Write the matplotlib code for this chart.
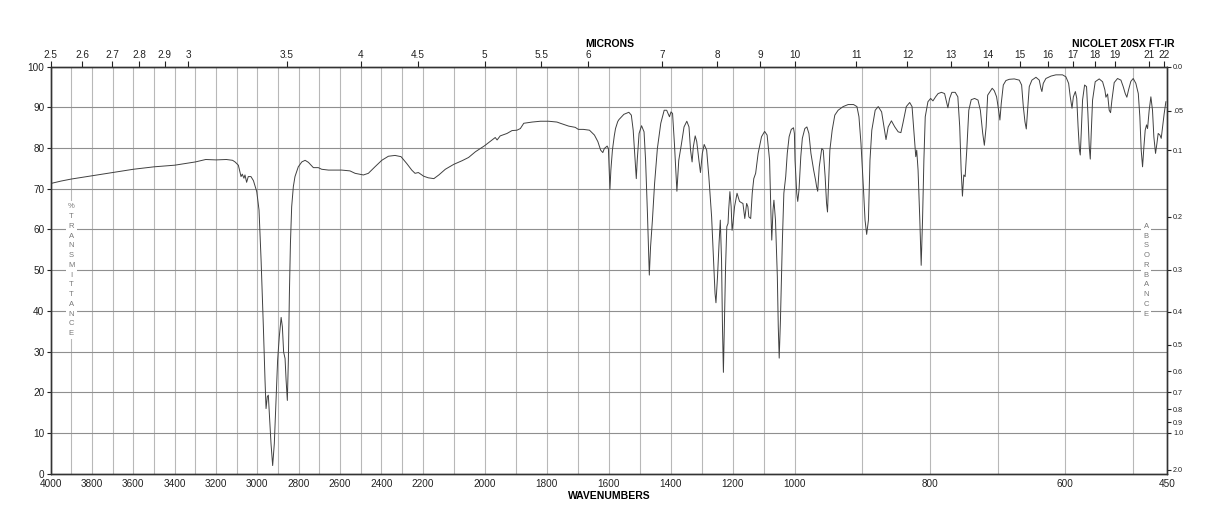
import numpy as np
import matplotlib.pyplot as plt

plt.rcParams['font.family'] = ['Liberation Sans', 'DejaVu Sans']

# spectrum (cm-1, %T)
wavenumber = [
    4000, 3950, 3900, 3850, 3800, 3750, 3700, 3650, 3600, 3550, 3500, 3450,
    3400, 3350, 3300, 3250, 3200, 3150, 3120, 3108, 3092, 3079, 3073, 3065,
    3060, 3052, 3044, 3031, 3019, 3003, 2992, 2982, 2971, 2963, 2958, 2952,
    2947, 2942, 2934, 2926, 2918, 2910, 2902, 2894, 2885, 2879, 2873, 2866,
    2861, 2855, 2850, 2845, 2840, 2834, 2826, 2818, 2802, 2785, 2769, 2753,
    2729, 2705, 2689, 2656, 2592, 2552, 2527, 2487, 2463, 2431, 2398, 2366,
    2334, 2305, 2277, 2253, 2237, 2221, 2197, 2182, 2164, 2148, 2127, 2100,
    2073, 2052, 2030, 2000, 1976, 1966, 1960, 1950, 1928, 1912, 1896, 1885,
    1874, 1847, 1820, 1794, 1767, 1756, 1729, 1708, 1698, 1682, 1662, 1646,
    1635, 1626, 1619, 1614, 1605, 1601, 1598, 1596, 1593, 1588, 1582, 1578,
    1571, 1567, 1551, 1535, 1527, 1521, 1515, 1511, 1508, 1502, 1494, 1486,
    1481, 1475, 1469, 1465, 1459, 1452, 1443, 1432, 1421, 1413, 1404, 1399,
    1394, 1388, 1380, 1374, 1366, 1357, 1348, 1341, 1336, 1331, 1327, 1321,
    1316, 1309, 1304, 1298, 1292, 1284, 1277, 1268, 1262, 1257, 1254, 1249,
    1244, 1240, 1236, 1233, 1230, 1227, 1223, 1219, 1215, 1213, 1209, 1205,
    1202, 1199, 1194, 1186, 1178, 1172, 1167, 1161, 1155, 1151, 1148, 1142,
    1137, 1132, 1126, 1118, 1107, 1097, 1089, 1081, 1077, 1074, 1070, 1067,
    1062, 1056, 1053, 1050, 1046, 1040, 1035, 1029, 1024, 1018, 1011, 1004,
    1001, 999.5, 997, 995.5, 993.6, 991, 988.7, 985, 982, 979, 976, 972,
    969, 967.6, 966, 963.7, 960, 957.8, 955, 952.9, 951.5, 950.5, 948, 944.6,
    940.7, 935.8, 928.4, 921, 913, 908, 905, 902, 898.5, 896, 893.6, 891,
    888.7, 886, 881, 876.5, 871.5, 868, 865, 861.8, 857, 852, 847, 843,
    840, 835, 830, 826.5, 823.5, 821, 819.6, 817.6, 815, 813, 811, 809,
    807, 803, 799, 795.6, 791.7, 788, 783, 778.4, 775, 773.5, 771, 767.6,
    762.7, 758.8, 756, 753.9, 752, 750, 748, 745.6, 742.6, 739, 734, 729,
    725.5, 722, 719.6, 717, 714.7, 708, 704.9, 701.5, 698.5, 696.6, 694.6,
    691.6, 687.7, 682.8, 675.4, 668, 664.5, 662, 659.6, 657.6, 655.7, 653.2,
    649.3, 643.3, 638.4, 636, 634.5, 632.5, 628.6, 621, 613.8, 604, 599,
    595, 592.6, 590, 588, 585, 583, 581, 579, 577.8, 576.4, 574.4, 571.4,
    568.5, 566.5, 564.5, 563, 561.6, 559.6, 555.7, 549.8, 544.8, 541.4,
    539.9, 537.4, 535, 533, 531, 527.6, 522.7, 517.7, 514.3, 511.3, 508.9,
    506.4, 503, 499.5, 495.6, 492, 489.7, 487.7, 485.7, 483.7, 481.8, 479.8,
    478.3, 475.9, 473.4, 471, 469, 466.5, 464.5, 462.6, 460, 458.1, 456.1,
    453.7, 451.2,
]
transmittance = [
    71.3, 71.9, 72.4, 72.8, 73.2, 73.6, 74.0, 74.4, 74.8, 75.1, 75.4, 75.6,
    75.8, 76.2, 76.6, 77.2, 77.1, 77.2, 77.0, 76.6, 75.8, 73.0, 73.6, 72.6,
    73.4, 71.6, 73.0, 73.0, 72.0, 69.3, 64.8, 52.5, 36.1, 23.0, 16.0, 18.9,
    19.3, 14.8, 7.4, 2.0, 7.4, 18.0, 27.9, 33.6, 38.4, 36.1, 29.9, 28.3,
    23.0, 18.0, 27.9, 44.3, 56.6, 65.6, 70.5, 73.0, 75.4, 76.6, 77.0, 76.5,
    75.2, 75.2, 74.8, 74.6, 74.6, 74.4, 73.8, 73.4, 73.8, 75.4, 77.0, 78.0,
    78.2, 77.9, 76.2, 74.6, 73.8, 74.0, 73.1, 72.7, 72.5, 73.4, 74.8, 76.0,
    76.9, 77.7, 79.1, 80.6, 82.0, 82.6, 82.0, 83.0, 83.6, 84.3, 84.4, 84.8,
    86.1, 86.4, 86.6, 86.6, 86.4, 86.1, 85.4, 85.1, 84.6, 84.6, 84.4, 83.2,
    81.6, 79.5, 78.9, 79.9, 80.5, 79.9, 73.8, 69.9, 74.6, 79.5, 83.0, 84.8,
    86.5, 87.0, 88.3, 88.8, 88.1, 84.4, 77.0, 72.5, 77.0, 83.6, 85.5, 84.0,
    77.0, 63.9, 48.8, 55.7, 62.3, 71.3, 79.9, 86.1, 89.3, 89.3, 87.7, 88.9,
    88.5, 81.1, 69.4, 77.0, 80.7, 85.2, 86.6, 85.2, 79.5, 76.6, 80.3, 83.0,
    81.6, 77.0, 74.0, 78.7, 80.9, 79.5, 73.0, 63.1, 52.5, 44.3, 42.0, 48.4,
    56.6, 62.3, 52.5, 36.1, 24.9, 36.1, 50.8, 60.7, 61.5, 64.8, 69.3, 65.6,
    59.8, 61.5, 65.6, 68.9, 66.9, 66.6, 66.4, 62.7, 66.4, 65.6, 63.1, 62.7,
    68.9, 72.5, 73.8, 78.7, 82.8, 84.1, 83.2, 77.0, 64.8, 57.4, 64.8, 67.2,
    62.3, 48.4, 36.1, 28.4, 37.7, 56.6, 68.9, 73.0, 78.7, 82.8, 84.6, 85.0,
    83.6, 77.0, 68.9, 66.9, 69.8, 77.9, 82.4, 84.8, 85.2, 83.6, 78.7, 74.6,
    72.0, 70.5, 69.4, 75.4, 79.9, 79.5, 73.0, 66.4, 64.3, 68.9, 79.5, 84.4,
    88.1, 89.3, 90.2, 90.7, 90.7, 90.2, 87.7, 81.1, 70.5, 62.3, 58.8, 62.3,
    77.0, 84.4, 89.3, 90.2, 88.9, 85.2, 82.1, 85.2, 86.7, 85.2, 84.0, 83.8,
    86.1, 90.2, 91.2, 90.2, 83.6, 77.9, 79.5, 74.6, 62.3, 51.2, 62.3, 77.0,
    87.7, 91.4, 92.2, 91.6, 92.6, 93.4, 93.7, 93.4, 91.0, 89.9, 92.2, 93.7,
    93.7, 92.6, 85.2, 74.6, 68.2, 73.4, 73.0, 79.5, 89.3, 91.9, 92.2, 91.8,
    89.3, 83.6, 80.7, 85.2, 93.0, 94.7, 94.1, 92.6, 89.3, 86.9, 91.0,
    95.5, 96.6, 96.9, 97.0, 96.7, 95.5, 90.2, 86.5, 84.7, 89.3, 95.1,
    96.7, 97.4, 96.7, 94.7, 93.9, 95.9, 97.1, 97.7, 98.0, 98.0, 97.5,
    95.9, 92.6, 89.8, 92.6, 93.9, 92.2, 85.2, 79.5, 78.3, 83.6, 91.8, 95.5,
    95.1, 88.5, 80.3, 77.3, 83.6, 91.8, 96.3, 97.0, 96.3, 94.3,
    92.5, 93.3, 89.3, 88.7, 91.8, 96.1, 97.1, 96.7, 95.1, 93.4, 92.5,
    94.3, 96.4, 97.1, 95.9, 93.4, 87.7, 79.5, 75.4, 80.3, 84.4, 85.7,
    84.8, 89.3, 92.6, 89.3, 82.8, 78.7, 81.1, 83.6, 83.2, 82.4, 85.2,
    88.5, 91.4,
]

wn_labels = [4000, 3800, 3600, 3400, 3200, 3000, 2800, 2600, 2400, 2200,
             2000, 1800, 1600, 1400, 1200, 1000, 800, 600, 450]
microns = [2.5, 2.6, 2.7, 2.8, 2.9, 3, 3.5, 4, 4.5, 5, 5.5, 6, 7, 8, 9, 10,
           11, 12, 13, 14, 15, 16, 17, 18, 19, 21, 22]
micron_labels = ['2.5', '2.6', '2.7', '2.8', '2.9', '3', '3.5', '4', '4.5',
                 '5', '5.5', '6', '7', '8', '9', '10', '11', '12', '13', '14',
                 '15', '16', '17', '18', '19', '21', '22']
absorbance = [0.0, 0.05, 0.1, 0.2, 0.3, 0.4, 0.5, 0.6, 0.7, 0.8, 0.9, 1.0, 2.0]
absorbance_labels = ['0.0', '.05', '0.1', '0.2', '0.3', '0.4', '0.5', '0.6',
                     '0.7', '0.8', '0.9', '1.0', '2.0']


# chart paper: three equal panels 4000-2200, 2200-1000, 1000-450
def fwd(w):
    return np.interp(w, [450, 1000, 2200, 4000], [0, 1, 2, 3])


def inv(u):
    return np.interp(u, [0, 1, 2, 3], [450, 1000, 2200, 4000])


W, H = 1218, 528
fig = plt.figure(figsize=(W / 100, H / 100), dpi=100)
left, right, top, bottom = 50.7, 1166.7, 66.7, 473.7
ax = fig.add_axes([left / W, 1 - bottom / H, (right - left) / W, (bottom - top) / H])
ax.set_xscale('function', functions=(fwd, inv))
ax.set_xlim(4000, 450)
ax.set_ylim(0, 100)

grid_x = list(range(4000, 499, -100)) + [450]
ax.set_xticks(grid_x)
ax.set_xticklabels([str(w) if w in wn_labels else '' for w in grid_x])
ax.tick_params(axis='x', length=0, labelsize=7.2, pad=4, colors='#222')
ax.set_yticks(range(0, 101, 10))
ax.tick_params(axis='y', length=3, labelsize=7.2, pad=1.5, colors='#222')
ax.grid(axis='x', color='#b8b8b8', lw=0.8)
ax.grid(axis='y', color='#8f8f8f', lw=0.8)
ax.set_axisbelow(True)

ax.plot(wavenumber, transmittance, color='#404040', lw=0.7)

txt = dict(ha='center', va='center', fontsize=5.5, color='#777777', linespacing=1.55,
           bbox=dict(facecolor='white', edgecolor='none', pad=1.5), zorder=3)
ax.text(3900, 50, '%\nT\nR\nA\nN\nS\nM\nI\nT\nT\nA\nN\nC\nE', **txt)
ax.text(480, 50, 'A\nB\nS\nO\nR\nB\nA\nN\nC\nE', **txt)

axt = ax.twiny()
axt.set_xscale('function', functions=(fwd, inv))
axt.set_xlim(4000, 450)
axt.set_xticks([1e4 / m for m in microns])
axt.set_xticklabels(micron_labels)
axt.tick_params(axis='x', length=4, labelsize=7.2, pad=1, colors='#222')

axr = ax.twinx()
axr.set_ylim(0, 100)
axr.set_yticks([100 * 10 ** (-a) for a in absorbance])
axr.set_yticklabels(absorbance_labels)
axr.tick_params(axis='y', length=3, labelsize=5.2, pad=1.5, colors='#222')

for a in (ax, axt, axr):
    for s in a.spines.values():
        s.set_color('#333333')
        s.set_linewidth(0.9)

fig.text(610 / W, 1 - 44 / H, 'MICRONS', ha='center', va='center',
         fontsize=7.5, fontweight='bold')
fig.text(1123 / W, 1 - 44 / H, 'NICOLET 20SX FT-IR', ha='center', va='center',
         fontsize=7.5, fontweight='bold')
fig.text(609 / W, 1 - 496 / H, 'WAVENUMBERS', ha='center', va='center',
         fontsize=7.5, fontweight='bold')

fig.savefig('out.png', dpi=100)
